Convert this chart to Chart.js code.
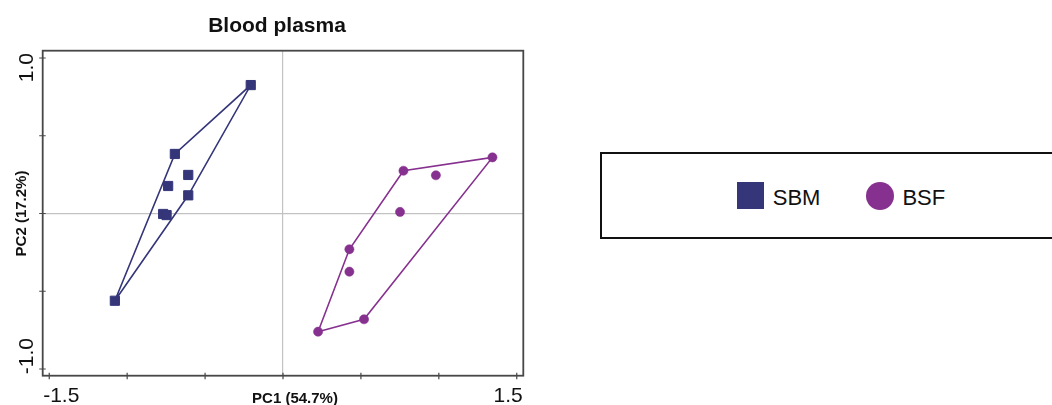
<!DOCTYPE html>
<html>
<head>
<meta charset="utf-8">
<script src="https://cdn.jsdelivr.net/npm/chart.js@4.4.0/dist/chart.umd.min.js"></script>
<style>
  html, body { margin: 0; padding: 0; background: #fff; overflow: hidden; width: 1052px; height: 405px; }
  #wrap { position: absolute; left: 0; top: 0; width: 555px; height: 405px; }
  #legend {
    position: absolute; left: 600px; top: 152px; width: 478px; height: 83px;
    border: 2px solid #111; display: flex; align-items: center; justify-content: center;
    font-family: "Liberation Sans", Arial, sans-serif; font-size: 22px; color: #111;
  }
  .item { display: flex; align-items: center; }
  .item + .item { margin-left: 46px; }
  .sw { margin-right: 9px; }
</style>
</head>
<body>
<div id="wrap"><canvas id="c" width="555" height="405"></canvas></div>
<div id="legend"></div>
<script>
// Groups and colours
const seriesNames = ['SBM', 'BSF'];
const seriesColors = ['#35367a', '#86318f'];

// PCA scores (PC1, PC2) per sample
const sbmPC1 = [-0.207, -0.694, -0.608, -0.737, -0.608, -0.769, -0.747, -1.079];
const sbmPC2 = [ 0.826,  0.383,  0.248,  0.177,  0.117, -0.003, -0.010, -0.561];
const bsfPC1 = [ 1.344,  0.773,  0.981,  0.751,  0.426,  0.426,  0.520,  0.225];
const bsfPC2 = [ 0.361,  0.275,  0.246,  0.010, -0.230, -0.374, -0.680, -0.760];

// Convex hull outlines (sample indices, in drawing order)
const sbmHull = [7, 1, 0, 4];
const bsfHull = [7, 4, 1, 0, 6];

// Axis labelling
const xTickValues = [-1.5, 1.5];
const xTickLabels = ['-1.5', '1.5'];
const yTickValues = [1.0, -1.0];
const yTickLabels = ['1.0', '-1.0'];
const xTitle = 'PC1 (54.7%)';
const yTitle = 'PC2 (17.2%)';
const chartTitle = 'Blood plasma';

const FONT = '"Liberation Sans", Arial, sans-serif';
Chart.defaults.font.family = FONT;

const pts = (xs, ys) => xs.map((v, i) => ({ x: v, y: ys[i] }));
const hull = (xs, ys, idx) => idx.concat(idx[0]).map(i => ({ x: xs[i], y: ys[i] }));

// Title, frame, crossing tick marks, end labels and axis titles
const framePlugin = {
  id: 'frame',
  afterDraw(chart) {
    const { ctx, chartArea: a, scales: { x, y } } = chart;
    ctx.save();

    ctx.fillStyle = '#111';
    ctx.textBaseline = 'alphabetic';
    ctx.textAlign = 'center';
    ctx.font = 'bold 21px ' + FONT;
    ctx.fillText(chartTitle, 277, 31.5);

    ctx.strokeStyle = '#474747';
    ctx.lineWidth = 1.8;
    ctx.strokeRect(a.left, a.top, a.right - a.left, a.bottom - a.top);

    ctx.lineWidth = 1.2;
    ctx.beginPath();
    x.ticks.forEach(t => {
      const px = x.getPixelForValue(t.value);
      ctx.moveTo(px, a.bottom - 3); ctx.lineTo(px, a.bottom + 3.5);
    });
    y.ticks.forEach(t => {
      const py = y.getPixelForValue(t.value);
      ctx.moveTo(a.left - 3.5, py); ctx.lineTo(a.left + 3, py);
    });
    ctx.stroke();

    // x end labels, flush with the frame
    ctx.font = '21px ' + FONT;
    xTickValues.forEach((v, i) => {
      const first = x.getPixelForValue(v) < (a.left + a.right) / 2;
      ctx.textAlign = first ? 'left' : 'right';
      ctx.fillText(xTickLabels[i], first ? a.left + 0.5 : a.right - 0.5, 402);
    });

    // y end labels, rotated
    yTickValues.forEach((v, i) => {
      const top = y.getPixelForValue(v) < (a.top + a.bottom) / 2;
      ctx.save();
      ctx.translate(32.7, top ? a.top + 2.3 : a.bottom - 1.5);
      ctx.rotate(-Math.PI / 2);
      ctx.textAlign = top ? 'right' : 'left';
      ctx.fillText(yTickLabels[i], 0, 0);
      ctx.restore();
    });

    // axis titles
    ctx.font = 'bold 15px ' + FONT;
    ctx.textAlign = 'center';
    ctx.fillText(xTitle, 295, 402.5);
    ctx.save();
    ctx.translate(26, y.getPixelForValue(0));
    ctx.rotate(-Math.PI / 2);
    ctx.fillText(yTitle, 0, 0);
    ctx.restore();
    ctx.restore();
  }
};

const zeroLine = ctx => (ctx.tick && ctx.tick.value === 0) ? '#c2c2c2' : 'rgba(0,0,0,0)';

new Chart(document.getElementById('c'), {
  type: 'scatter',
  data: {
    datasets: [
      {
        label: seriesNames[0], data: pts(sbmPC1, sbmPC2), order: 0,
        pointStyle: 'rect', pointRadius: 6.5, borderWidth: 1,
        backgroundColor: seriesColors[0], borderColor: seriesColors[0]
      },
      {
        label: seriesNames[1], data: pts(bsfPC1, bsfPC2), order: 0,
        pointStyle: 'circle', pointRadius: 4.6, borderWidth: 0.5,
        backgroundColor: seriesColors[1], borderColor: seriesColors[1]
      },
      {
        label: seriesNames[0] + ' hull', data: hull(sbmPC1, sbmPC2, sbmHull), order: 1,
        showLine: true, pointRadius: 0, borderWidth: 1.6, tension: 0,
        borderColor: seriesColors[0], backgroundColor: 'rgba(0,0,0,0)'
      },
      {
        label: seriesNames[1] + ' hull', data: hull(bsfPC1, bsfPC2, bsfHull), order: 1,
        showLine: true, pointRadius: 0, borderWidth: 1.6, tension: 0,
        borderColor: seriesColors[1], backgroundColor: 'rgba(0,0,0,0)'
      }
    ]
  },
  options: {
    responsive: false,
    animation: false,
    devicePixelRatio: 1,
    layout: { autoPadding: false, padding: { left: 42.7, right: 31.7, top: 50.7, bottom: 29.3 } },
    plugins: {
      legend: { display: false },
      tooltip: { enabled: false },
      title: { display: false }
    },
    scales: {
      x: {
        type: 'linear', min: -1.542, max: 1.542,
        ticks: { display: false, stepSize: 0.5, includeBounds: false, autoSkip: false },
        grid: { drawTicks: false, color: zeroLine, lineWidth: 1.2 },
        border: { display: false }
      },
      y: {
        type: 'linear', min: -1.043, max: 1.047,
        ticks: { display: false, stepSize: 0.5, includeBounds: false, autoSkip: false },
        grid: { drawTicks: false, color: zeroLine, lineWidth: 1.2 },
        border: { display: false }
      }
    }
  },
  plugins: [framePlugin]
});

// Legend box built from the series definitions
const legend = document.getElementById('legend');
seriesNames.forEach((name, i) => {
  const item = document.createElement('div');
  item.className = 'item';
  const sw = document.createElement('span');
  sw.className = 'sw';
  const size = i === 0 ? 27 : 28;
  sw.style.cssText = `display:inline-block;width:${size}px;height:${size}px;background:${seriesColors[i]};` +
    (i === 1 ? 'border-radius:50%;margin-right:8px;' : '');
  const label = document.createElement('span');
  label.textContent = name;
  label.style.position = 'relative';
  label.style.top = '2px';
  item.appendChild(sw);
  item.appendChild(label);
  legend.appendChild(item);
});
</script>
</body>
</html>
